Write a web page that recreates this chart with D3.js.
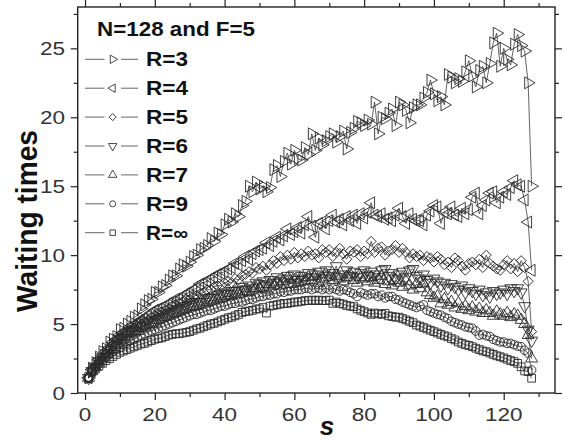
<!DOCTYPE html>
<html><head><meta charset="utf-8">
<script src="https://cdn.jsdelivr.net/npm/d3@7"></script>
<style>body{margin:0;background:#fff} svg{display:block}</style>
</head><body><svg id="c" width="565" height="441"></svg>
<script>
const sValues = d3.range(1, 129);
const r3 = [1.1,1.8,2.2,2.6,3.0,3.2,3.7,3.9,4.1,4.6,
4.7,5.0,5.2,5.5,5.6,6.1,6.4,6.7,6.8,7.3,
7.3,7.7,7.8,8.2,8.5,8.5,9.0,9.3,9.2,9.5,
9.9,10.0,10.4,10.5,10.7,11.2,11.0,11.6,11.5,12.2,
12.6,12.4,13.0,12.8,13.6,13.9,15.0,14.6,15.3,14.8,
15.0,14.6,14.9,16.2,16.5,15.7,16.8,17.4,16.6,17.6,
17.0,16.9,17.8,17.3,18.8,17.6,18.5,18.0,18.3,18.6,
18.8,18.2,18.6,19.0,17.7,18.9,19.2,19.7,19.6,19.4,
19.8,19.5,21.1,18.8,20.0,19.9,20.3,20.6,19.4,21.1,
20.9,20.5,19.6,20.7,20.9,20.9,21.4,21.8,22.7,21.7,
21.2,21.5,20.9,23.1,22.9,22.5,22.8,22.6,23.3,24.1,
23.0,22.2,23.4,23.7,22.5,23.9,25.4,26.1,23.7,25.0,
24.2,23.8,25.3,26.0,25.2,24.8,22.5,15.0];
const r4 = [1.1,1.7,2.0,2.4,2.7,3.0,3.3,3.7,3.9,4.2,
4.4,4.5,4.8,4.9,5.1,5.3,5.4,5.6,5.8,6.0,
6.1,6.2,6.3,6.5,6.6,6.8,6.8,7.0,7.2,7.3,
7.5,7.6,7.9,8.0,8.1,8.3,8.4,8.6,8.7,8.8,
9.0,9.1,9.4,9.3,9.6,9.9,9.7,10.1,10.3,10.4,
10.5,10.9,10.7,11.0,11.3,11.1,11.4,11.9,11.5,11.7,
12.0,11.6,12.2,12.8,12.1,11.3,12.3,12.4,11.9,12.5,
12.9,12.4,12.6,12.2,12.8,12.5,12.9,12.3,13.0,12.7,
13.1,13.8,12.9,12.8,13.0,12.6,12.7,12.5,12.9,13.4,
12.8,12.3,13.0,12.6,12.5,12.5,12.2,12.9,13.2,13.6,
13.5,12.3,13.1,13.0,13.5,12.9,12.8,13.4,13.0,13.3,
14.2,14.5,13.0,13.6,14.0,14.5,14.6,13.8,14.2,14.6,
14.4,14.9,15.4,15.1,15.0,14.0,12.4,8.9];
const r5 = [1.1,1.7,2.0,2.3,2.6,2.9,3.2,3.5,3.8,4.0,
4.2,4.4,4.5,4.7,4.9,5.0,5.2,5.3,5.5,5.6,
5.7,5.9,6.0,6.1,6.3,6.4,6.5,6.6,6.8,6.8,
7.0,7.1,7.2,7.3,7.5,7.5,7.7,7.8,7.8,8.0,
8.1,8.0,8.3,8.2,8.5,8.6,8.8,8.7,9.1,9.0,
9.2,8.9,9.3,9.6,9.4,9.9,9.6,10.0,9.7,10.2,
9.8,10.1,9.9,10.3,10.0,10.1,9.8,10.4,10.2,10.4,
9.9,10.2,10.5,10.1,9.7,10.3,10.2,10.4,9.9,10.3,
10.1,11.0,10.2,10.5,10.6,10.0,10.3,10.4,10.7,10.2,
10.5,10.2,9.8,10.1,9.9,10.0,9.6,9.9,9.8,9.5,
9.9,9.7,9.3,9.5,9.1,9.8,9.6,9.2,8.9,9.4,
9.5,9.3,9.7,9.1,10.0,9.4,9.2,9.0,8.9,9.3,
9.6,9.0,9.4,8.8,9.6,9.1,8.1,4.45];
const r6 = [1.1,1.6,1.9,2.3,2.6,2.9,3.1,3.4,3.6,3.9,
4.0,4.2,4.4,4.5,4.6,4.8,4.9,5.1,5.2,5.3,
5.4,5.5,5.7,5.8,5.9,6.0,6.1,6.2,6.3,6.4,
6.5,6.6,6.6,6.8,6.9,6.9,7.0,7.1,7.2,7.3,
7.2,7.4,7.4,7.5,7.7,7.5,7.8,7.6,8.0,7.9,
8.1,7.8,8.2,8.0,8.4,8.1,8.3,8.5,8.0,8.6,
8.2,8.5,8.3,8.7,8.4,8.6,8.8,8.3,8.9,8.5,
8.7,9.2,8.4,8.6,8.9,8.5,8.8,8.4,8.7,8.9,
8.5,8.8,8.6,8.4,8.9,9.0,8.5,8.7,8.3,8.6,
8.8,8.4,8.9,9.0,8.5,8.3,8.6,8.2,8.0,8.3,
8.1,7.8,8.0,7.6,7.9,7.7,7.5,7.8,7.3,7.6,
7.4,7.2,7.5,7.1,7.3,7.0,7.4,7.2,7.3,7.5,
7.2,7.6,7.4,7.6,7.3,6.3,4.6,3.8];
const r7 = [1.1,1.6,1.9,2.2,2.5,2.8,3.1,3.3,3.6,3.8,
3.9,4.1,4.3,4.4,4.5,4.7,4.8,4.9,5.0,5.1,
5.3,5.4,5.5,5.6,5.7,5.8,5.9,6.0,6.1,6.2,
6.3,6.3,6.4,6.5,6.6,6.7,6.7,6.8,6.9,7.0,
7.0,7.1,7.2,7.2,7.3,7.4,7.3,7.5,7.6,7.6,
7.7,7.5,7.9,7.8,8.0,7.8,8.1,8.3,7.9,8.2,
8.0,8.3,8.1,8.4,8.2,8.5,8.0,8.3,8.6,8.4,
8.2,8.5,8.3,8.1,8.4,8.6,8.2,8.0,8.4,8.3,
8.1,8.4,8.0,8.2,8.5,7.9,8.1,7.8,8.2,8.0,
7.7,8.1,7.8,7.5,7.9,7.6,7.95,7.3,7.1,6.9,
7.0,6.5,6.8,6.4,6.6,6.2,6.5,6.1,6.3,6.0,
6.2,5.9,6.1,5.8,6.0,5.8,5.6,5.9,5.7,5.6,
5.8,5.5,5.7,5.6,5.3,5.0,4.2,2.5];
const r9 = [1.1,1.5,1.8,2.1,2.4,2.6,2.8,3.0,3.2,3.3,
3.5,3.6,3.8,3.9,4.0,4.2,4.3,4.4,4.5,4.6,
4.7,4.8,4.9,5.0,5.1,5.2,5.3,5.4,5.5,5.6,
5.7,5.7,5.8,5.9,6.0,6.0,6.1,6.2,6.3,6.3,
6.4,6.5,6.5,6.6,6.6,6.7,6.8,6.8,6.9,7.0,
7.0,7.1,7.1,7.2,7.2,7.35,7.3,7.4,7.4,7.5,
7.5,7.5,7.6,7.6,7.5,7.6,7.6,7.5,7.6,7.5,
7.6,7.5,7.4,7.5,7.45,7.3,7.2,7.0,7.3,7.2,
7.1,7.2,7.2,7.0,7.1,6.9,7.0,7.0,6.8,6.74,
6.6,6.5,6.4,6.3,6.2,6.3,6.4,6.0,5.9,5.8,
5.7,5.65,5.5,5.4,5.2,5.1,5.0,4.93,4.8,4.75,
4.7,4.5,4.2,4.25,4.15,4.1,3.9,3.8,3.7,3.7,
3.6,3.6,3.5,3.4,3.36,3.1,2.9,1.67];
const rInf = [1.05,1.5,1.75,1.95,2.15,2.35,2.5,2.65,2.8,2.95,
3.05,3.15,3.25,3.35,3.45,3.55,3.6,3.7,3.8,3.9,
3.95,4.0,4.1,4.2,4.25,4.3,4.3,4.35,4.4,4.45,
4.55,4.65,4.7,4.8,4.9,5.0,5.05,5.15,5.25,5.35,
5.45,5.5,5.6,5.7,5.85,5.9,5.95,6.0,6.1,6.1,
6.2,5.8,6.3,6.35,6.4,6.45,6.5,6.5,6.55,6.6,
6.6,6.65,6.7,6.7,6.74,6.7,6.74,6.7,6.7,6.74,
6.5,6.6,6.5,6.45,6.35,6.3,6.26,6.1,6.0,5.9,
5.8,5.7,5.8,5.75,5.7,5.78,5.6,5.55,5.5,5.5,
5.4,5.3,5.2,5.1,4.93,4.85,4.75,4.65,4.55,4.45,
4.35,4.25,4.15,4.08,3.95,3.85,3.7,3.6,3.5,3.45,
3.36,3.25,3.15,3.05,3.0,2.9,2.8,2.7,2.63,2.55,
2.45,2.35,2.27,2.15,1.9,1.6,1.55,1.07];
const seriesNames = ["R=3","R=4","R=5","R=6","R=7","R=9","R=\u221E"];
const seriesValues = [r3, r4, r5, r6, r7, r9, rInf];
const xMajorTicks = [0,20,40,60,80,100,120];
const xMinorTicks = [10,30,50,70,90,110,130];
const yMajorTicks = [0,5,10,15,20,25];
const yMinorTicks = [2.5,7.5,12.5,17.5,22.5,27.5];
const titleText = "N=128 and F=5";
const xLabel = "s";
const yLabel = "Waiting times";

const markerKinds = ["tri-right","tri-left","diamond","tri-down","tri-up","circle","square"];

const svg = d3.select("#c");
const L = 77.7, R = 555, T = 7, B = 393;
const x = d3.scaleLinear().domain([-2.1, 134.7]).range([L, R]);
const y = d3.scaleLinear().domain([0, 28]).range([B, T]);

function markerPath(kind, big) {
  const k = big ? 1 : 0.5;
  switch (kind) {
    case "tri-right": case "tri-left": case "tri-down": case "tri-up":
      return d3.symbol(d3.symbolTriangle, 62 * k)();
    case "diamond": return d3.symbol(d3.symbolSquare, 50 * k)();
    case "circle": return d3.symbol(d3.symbolCircle, 58 * k)();
    case "square": return d3.symbol(d3.symbolSquare, 60 * k)();
  }
}
function markerRot(kind) {
  return {"tri-right":90,"tri-left":-90,"tri-down":180,"tri-up":0,"diamond":45,"circle":0,"square":0}[kind];
}

// frame + ticks
const gAx = svg.append("g").attr("stroke", "#222");
const axB = d3.axisBottom(x).tickValues(xMajorTicks).tickSize(7).tickFormat("");
const axBm = d3.axisBottom(x).tickValues(xMinorTicks).tickSize(4).tickFormat("");
const axT = d3.axisBottom(x).tickValues(xMajorTicks).tickSize(-7).tickFormat("");
const axTm = d3.axisBottom(x).tickValues(xMinorTicks).tickSize(-4).tickFormat("");
const axL = d3.axisLeft(y).tickValues(yMajorTicks).tickSize(7).tickFormat("");
const axLm = d3.axisLeft(y).tickValues(yMinorTicks).tickSize(4).tickFormat("");
const axR = d3.axisLeft(y).tickValues(yMajorTicks).tickSize(-7).tickFormat("");
const axRm = d3.axisLeft(y).tickValues(yMinorTicks).tickSize(-4).tickFormat("");
[[axB,`translate(0,${B})`],[axBm,`translate(0,${B})`],[axT,`translate(0,${T})`],[axTm,`translate(0,${T})`],
 [axL,`translate(${L},0)`],[axLm,`translate(${L},0)`],[axR,`translate(${R},0)`],[axRm,`translate(${R},0)`]]
 .forEach(([a,t]) => {
   const g = gAx.append("g").attr("transform", t).call(a);
   g.select(".domain").remove();
   g.selectAll("line").attr("stroke", "#222").attr("stroke-width", 1.2);
 });
svg.append("rect").attr("x", L).attr("y", T).attr("width", R - L).attr("height", B - T)
  .attr("fill", "none").attr("stroke", "#222").attr("stroke-width", 1.4);

// tick labels
const tickFont = "Liberation Sans, Arial, sans-serif";
svg.append("g").selectAll("text").data(xMajorTicks).join("text")
  .attr("x", d => x(d)).attr("y", 421).attr("text-anchor", "middle")
  .attr("font-family", tickFont).attr("font-size", 18.5).attr("fill", "#333")
  .attr("textLength", d => String(d).length * 12.5).attr("lengthAdjust", "spacingAndGlyphs")
  .text(d => d);
svg.append("g").selectAll("text").data(yMajorTicks).join("text")
  .attr("x", 65).attr("y", d => y(d) + 6.5).attr("text-anchor", "end")
  .attr("font-family", tickFont).attr("font-size", 18.5).attr("fill", "#333")
  .attr("textLength", d => String(d).length * 12.5).attr("lengthAdjust", "spacingAndGlyphs")
  .text(d => d);

// axis labels
svg.append("text").attr("transform", "translate(36.5,221) rotate(-90)")
  .attr("text-anchor", "middle").attr("font-family", tickFont).attr("font-weight", "bold")
  .attr("font-size", 30).attr("fill", "#111")
  .attr("textLength", 182).attr("lengthAdjust", "spacingAndGlyphs").text(yLabel);
svg.append("text").attr("x", 327).attr("y", 435).attr("text-anchor", "middle")
  .attr("font-family", tickFont).attr("font-weight", "bold").attr("font-style", "italic")
  .attr("font-size", 26).attr("fill", "#111").text(xLabel);

// series
const line = d3.line().x((d, i) => x(sValues[i])).y(d => y(d));
const gS = svg.append("g");
seriesValues.forEach((vals, si) => {
  const kind = markerKinds[si];
  gS.append("path").attr("d", line(vals)).attr("fill", "none")
    .attr("stroke", "#222").attr("stroke-width", 0.7);
  const p = markerPath(kind, true), rot = markerRot(kind);
  gS.append("g").selectAll("path").data(vals).join("path")
    .attr("d", p)
    .attr("transform", (d, i) => `translate(${x(sValues[i])},${y(d)}) rotate(${rot})`)
    .attr("fill", "none").attr("stroke", "#2a2a2a").attr("stroke-width", 0.9);
});

// legend
const gL = svg.append("g");
gL.append("text").attr("x", 97).attr("y", 36).attr("font-family", tickFont)
  .attr("font-weight", "bold").attr("font-size", 21).attr("fill", "#111")
  .attr("textLength", 158).attr("lengthAdjust", "spacingAndGlyphs").text(titleText);
seriesNames.forEach((name, i) => {
  const cy = 59.3 + i * 28.9;
  gL.append("line").attr("x1", 85).attr("x2", 104.5).attr("y1", cy).attr("y2", cy)
    .attr("stroke", "#666").attr("stroke-width", 1);
  gL.append("line").attr("x1", 121).attr("x2", 138).attr("y1", cy).attr("y2", cy)
    .attr("stroke", "#666").attr("stroke-width", 1);
  gL.append("path").attr("d", markerPath(markerKinds[i], false))
    .attr("transform", `translate(112.7,${cy}) rotate(${markerRot(markerKinds[i])})`)
    .attr("fill", "none").attr("stroke", "#333").attr("stroke-width", 0.9);
  gL.append("text").attr("x", 146).attr("y", cy + 6.8).attr("font-family", tickFont)
    .attr("font-weight", "bold").attr("font-size", 19.5).attr("fill", "#111")
    .attr("textLength", name.length * 14).attr("lengthAdjust", "spacingAndGlyphs").text(name);
});
</script></body></html>
